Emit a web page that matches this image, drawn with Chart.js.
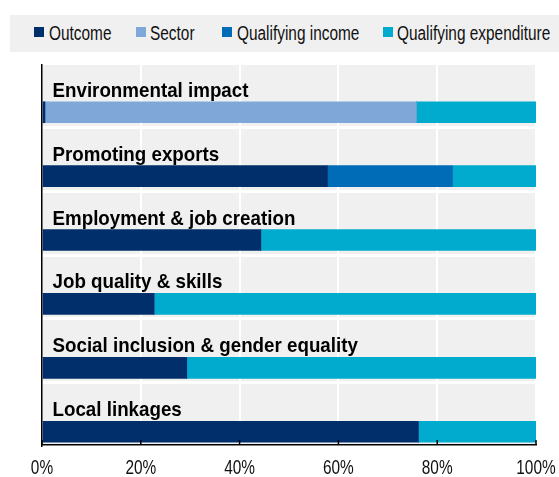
<!DOCTYPE html>
<html>
<head>
<meta charset="utf-8">
<script src="https://cdn.jsdelivr.net/npm/chart.js@4"></script>
<style>
  html, body { margin: 0; padding: 0; background: #fff; }
  #wrap { position: relative; width: 559px; height: 477px; overflow: hidden; }
  canvas { position: absolute; left: 0; top: 0; }
  #legend {
    position: absolute; left: 10px; top: 15px; width: 549px; height: 37px;
    background: #f0f0f0;
    font-family: 'Liberation Sans', Arial, sans-serif; font-size: 20px; color: #111;
  }
  #legend .box { position: absolute; top: 12px; width: 10px; height: 10px; }
  #legend .txt {
    position: absolute; top: 18px; line-height: 1; white-space: nowrap;
    transform: translateY(-50%) scaleX(0.77); transform-origin: left center;
  }
</style>
</head>
<body>
<div id="wrap">
  <canvas id="chart" width="559" height="477"></canvas>
  <div id="legend"></div>
</div>
<script>
const categories = [
  'Environmental impact',
  'Promoting exports',
  'Employment & job creation',
  'Job quality & skills',
  'Social inclusion & gender equality',
  'Local linkages'
];
const outcome = [0.6, 57.8, 44.3, 22.7, 29.3, 76.2];
const sector = [75.2, 0, 0, 0, 0, 0];
const qualifyingIncome = [0, 25.3, 0, 0, 0, 0];
const qualifyingExpenditure = [24.2, 16.9, 55.7, 77.3, 70.7, 23.8];
const seriesNames = ['Outcome', 'Sector', 'Qualifying income', 'Qualifying expenditure'];
const seriesColors = ['#002f6c', '#7fa8d9', '#006bb6', '#00abcd'];
const tickLabels = ['0%', '20%', '40%', '60%', '80%', '100%'];

const FONT = "'Liberation Sans', Arial, sans-serif";
const CONDENSE = 0.77;        // horizontal squeeze for regular text
const CONDENSE_BOLD = 0.915;  // horizontal squeeze for category titles

// Each category sits at an integer position on a linear index axis.
const toPoints = arr => arr.map((v, i) => ({ x: v, y: i }));
const seriesValues = [outcome, sector, qualifyingIncome, qualifyingExpenditure];

const datasets = seriesNames.map((name, k) => ({
  label: name,
  data: toPoints(seriesValues[k]),
  backgroundColor: seriesColors[k],
  borderWidth: 0,
  barThickness: 21
}));

// HTML legend
const legendX = [24, 125.5, 212, 372.5];
const legendEl = document.getElementById('legend');
seriesNames.forEach((name, k) => {
  const box = document.createElement('span');
  box.className = 'box';
  box.style.left = legendX[k] + 'px';
  box.style.background = seriesColors[k];
  const txt = document.createElement('span');
  txt.className = 'txt';
  txt.style.left = (legendX[k] + 14.5) + 'px';
  txt.textContent = name;
  legendEl.appendChild(box);
  legendEl.appendChild(txt);
});

// Grey plot background
const plotBackground = {
  id: 'plotBackground',
  beforeDraw(chart) {
    const { ctx, chartArea: a } = chart;
    ctx.save();
    ctx.fillStyle = '#f0f0f0';
    ctx.fillRect(a.left, a.top, a.right - a.left, a.bottom - a.top);
    ctx.restore();
  }
};

function squeezedText(ctx, text, x, y, k) {
  ctx.save();
  ctx.translate(x, y);
  ctx.scale(k, 1);
  ctx.fillText(text, 0, 0);
  ctx.restore();
}

// Category titles above each bar, inward tick marks and tick labels on the x axis
const decorations = {
  id: 'decorations',
  afterDatasetsDraw(chart) {
    const { ctx, chartArea: a, scales } = chart;
    ctx.save();
    ctx.fillStyle = '#000';
    ctx.font = 'bold 20.5px ' + FONT;
    ctx.textAlign = 'left';
    ctx.textBaseline = 'alphabetic';
    categories.forEach((c, i) => {
      const y = scales.y.getPixelForValue(i);
      squeezedText(ctx, c, a.left + 10.5, y - 15.5, CONDENSE_BOLD);
    });

    ctx.strokeStyle = '#000';
    ctx.lineWidth = 1.5;
    ctx.fillStyle = '#111';
    ctx.font = '20px ' + FONT;
    ctx.textAlign = 'center';
    scales.x.ticks.forEach((t, i) => {
      const x = scales.x.getPixelForValue(t.value);
      ctx.beginPath();
      ctx.moveTo(x, a.bottom);
      ctx.lineTo(x, a.bottom - 5);
      ctx.stroke();
      squeezedText(ctx, tickLabels[i], x, a.bottom + 29, CONDENSE);
    });
    ctx.restore();
  }
};

new Chart(document.getElementById('chart'), {
  type: 'bar',
  data: { datasets },
  plugins: [plotBackground, decorations],
  options: {
    indexAxis: 'y',
    responsive: false,
    animation: false,
    devicePixelRatio: 1,
    layout: { padding: { top: 65, left: 42, right: 23, bottom: 0 } },
    plugins: { legend: { display: false }, tooltip: { enabled: false } },
    scales: {
      x: {
        type: 'linear',
        stacked: true,
        min: 0,
        max: 100,
        afterFit(scale) { scale.height = 32; },
        ticks: { stepSize: 20, display: false },
        grid: {
          drawTicks: false,
          lineWidth: 2,
          color: ctx => (ctx.tick && ctx.tick.value === 0) ? 'rgba(0,0,0,0)' : '#ffffff'
        },
        border: { display: true, color: '#000', width: 1.5 }
      },
      y: {
        type: 'linear',
        stacked: true,
        reverse: true,
        offset: false,
        min: -0.739,
        max: 5.208,
        afterFit(scale) { scale.width = 0; },
        afterBuildTicks(scale) {
          // separators between category bands
          scale.ticks = categories.slice(0, -1).map((c, i) => ({ value: i + 0.235 }));
        },
        ticks: { display: false },
        grid: { offset: false, drawTicks: false, lineWidth: 3, color: '#ffffff' },
        border: { display: true, color: '#000', width: 1.5 }
      }
    }
  }
});
</script>
</body>
</html>
